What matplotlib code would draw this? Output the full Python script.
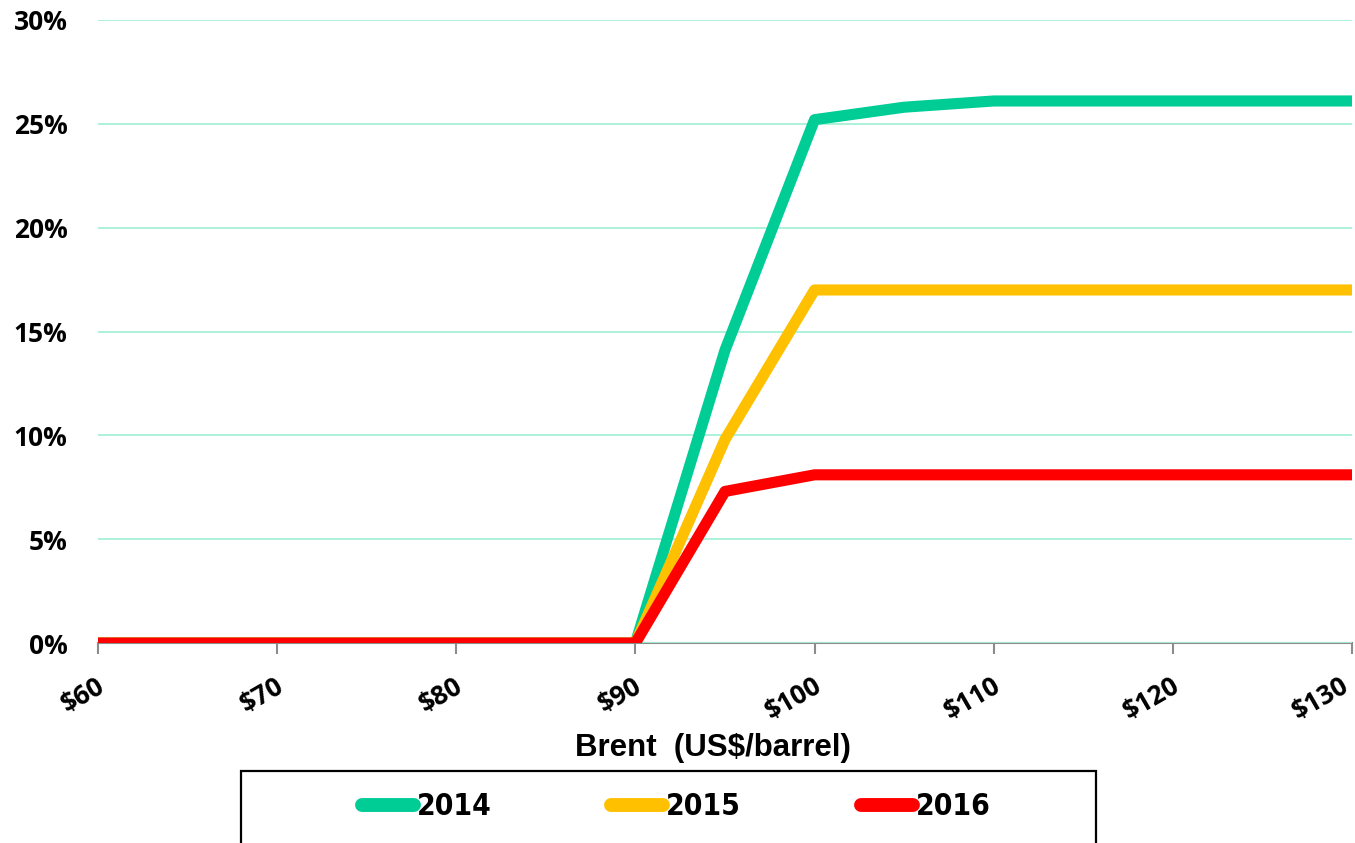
import matplotlib.pyplot as plt
from matplotlib.patches import Rectangle
from matplotlib.ticker import FuncFormatter, MultipleLocator
from matplotlib.transforms import ScaledTranslation

# Brent price (US$/barrel) and share per year
brent = [60, 65, 70, 75, 80, 85, 90, 95, 100, 105, 110, 115, 120, 125, 130]
share_2014 = [0, 0, 0, 0, 0, 0, 0, 14.1, 25.2, 25.8, 26.1, 26.1, 26.1, 26.1, 26.1]
share_2015 = [0, 0, 0, 0, 0, 0, 0, 9.8, 17.0, 17.0, 17.0, 17.0, 17.0, 17.0, 17.0]
share_2016 = [0, 0, 0, 0, 0, 0, 0, 7.3, 8.1, 8.1, 8.1, 8.1, 8.1, 8.1, 8.1]

series = [
    ("2014", share_2014, "#00CC96"),
    ("2015", share_2015, "#FFC000"),
    ("2016", share_2016, "#FF0000"),
]

fig = plt.figure(figsize=(13.55, 8.43), dpi=100)
ax = fig.add_axes([0.0723, 0.2372, 0.9255, 0.7391])

for label, values, color in series:
    ax.plot(brent, values, color=color, linewidth=8, solid_capstyle="round",
            solid_joinstyle="round", label=label)

ax.set_xlim(60, 130)
ax.set_ylim(0, 30)
ax.set_xticks(range(60, 131, 10))
ax.yaxis.set_major_locator(MultipleLocator(5))
ax.xaxis.set_major_formatter(FuncFormatter(lambda v, p: "${:.0f}".format(v)))
ax.yaxis.set_major_formatter(FuncFormatter(lambda v, p: "{:.0f}%".format(v)))

ax.grid(axis="y", color="#A6F2D6", linewidth=1.3)
ax.set_axisbelow(True)
for side in ["top", "right", "left"]:
    ax.spines[side].set_visible(False)
ax.spines["bottom"].set_color("#8C8C8C")
ax.spines["bottom"].set_linewidth(1.5)
ax.spines["bottom"].set_zorder(0.5)

ax.tick_params(axis="x", direction="out", length=8, width=1.5, color="#8C8C8C", pad=13)
ax.tick_params(axis="y", length=0, pad=22)
for pos, t in zip(ax.get_xticks(), ax.get_xticklabels()):
    t.set_rotation(30)
    t.set_ha("right")
    t.set_rotation_mode("anchor")
    t.set_fontfamily("Open Sans")
    t.set_fontweight("bold")
    t.set_fontsize(19)
    # keep the last label inside the figure
    dx = -12 if pos >= 130 else -2
    t.set_transform(t.get_transform() + ScaledTranslation(dx / 100, 0, fig.dpi_scale_trans))
for t in ax.get_yticklabels():
    t.set_fontfamily("Open Sans")
    t.set_fontweight("bold")
    t.set_fontsize(19)

ax.set_xlabel("Brent  (US$/barrel)", fontfamily="Liberation Sans", fontweight="bold",
              fontsize=22.5, va="center")
ax.xaxis.set_label_coords(0.49, -0.168)

# legend box, cut off at the bottom of the figure
fig.patches.append(Rectangle((0.178, -0.05), 0.631, 0.135, transform=fig.transFigure,
                             fill=False, edgecolor="black", linewidth=1.6))
leg = fig.legend(loc="center", bbox_to_anchor=(0.499, 0.043), ncol=3, frameon=False,
                 handlelength=1.75, handletextpad=0.1, columnspacing=4.0,
                 prop={"family": "DejaVu Sans", "stretch": "condensed",
                       "weight": "bold", "size": 21.5})
for line in leg.get_lines():
    line.set_linewidth(10)
    line.set_solid_capstyle("round")

fig.savefig("out.png", dpi=100)
